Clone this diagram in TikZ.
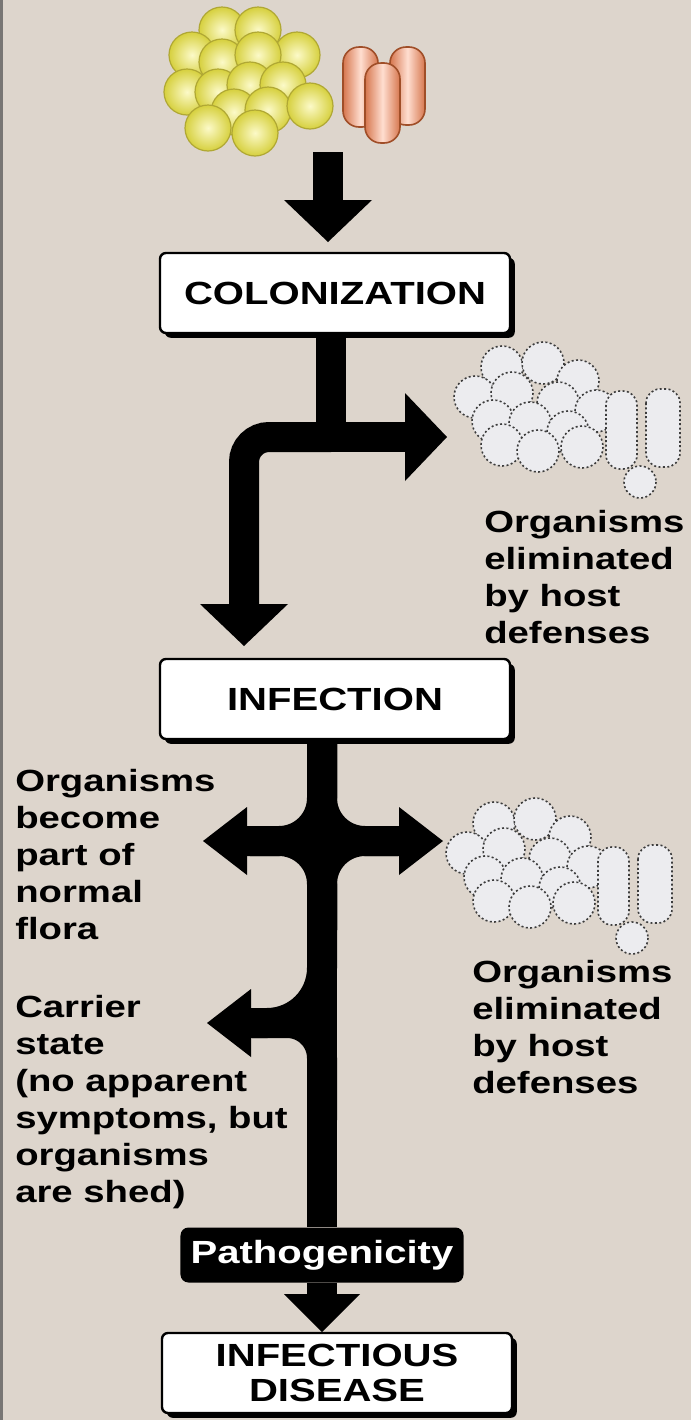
\documentclass[tikz,border=0pt]{standalone}
\usepackage{fontspec}
\newfontfamily\labelfont{Liberation Sans}[FakeStretch=1.25]
\usetikzlibrary{arrows.meta,shadows}

\definecolor{paper}{RGB}{221,213,204}
\definecolor{rim}{RGB}{120,118,116}
\definecolor{cocci-in}{RGB}{252,250,200}
\definecolor{cocci-out}{RGB}{214,208,62}
\definecolor{cocci-edge}{RGB}{176,168,52}
\definecolor{rod-out}{RGB}{214,118,78}
\definecolor{rod-mid}{RGB}{255,222,208}
\definecolor{rod-edge}{RGB}{160,78,40}
\definecolor{dead-fill}{RGB}{236,236,239}
\definecolor{dead-edge}{RGB}{60,60,60}

\tikzstyle{stage-node}=[draw,line width=0.6mm,fill=white,rounded corners=1.5mm,minimum width=87.5mm,minimum height=20mm,align=center,font=\labelfont\bfseries\fontsize{22.8}{24.9}\selectfont,drop shadow={shadow xshift=1.2mm,shadow yshift=-1.2mm,fill=black,opacity=1}]
\tikzstyle{patho-node}=[fill=black,rounded corners=2mm,minimum width=70.75mm,minimum height=13.75mm,text=white,font=\labelfont\bfseries\fontsize{22.8}{24.9}\selectfont]
\tikzstyle{note-text}=[anchor=north west,inner sep=0pt,align=left,font=\labelfont\bfseries\fontsize{21.8}{26.3}\selectfont]
\tikzstyle{flow}=[line width=7.5mm,-{Triangle[width=22mm,length=10.5mm,line width=0pt]}]
\tikzstyle{branch}=[line width=7.5mm,-{Triangle[width=17mm,length=11mm,line width=0pt]}]
\tikzstyle{trunk}=[line width=7.5mm]
\tikzstyle{coccus}=[draw=cocci-edge,line width=0.3mm,inner color=cocci-in,outer color=cocci-out]
\tikzstyle{rod}=[draw=rod-edge,line width=0.4mm,rounded corners=4mm,left color=rod-out,right color=rod-out,middle color=rod-mid]
\tikzstyle{dead-cell}=[draw=dead-edge,fill=dead-fill,line width=0.4mm,dash pattern=on 0.5mm off 0.6mm]

\begin{document}
\begin{tikzpicture}[x=0.25mm,y=-0.25mm]
    \fill[paper] (0,0) rectangle (691,1420);
    \fill[rim] (0,0) rectangle (3,1420);
    \useasboundingbox (0,0) rectangle (691,1420);

    % live cocci and rods
    \foreach \x/\y in {222/30, 258/30, 192/55, 297/55, 222/62, 258/55, 187/92, 218/92, 250/85, 283/85, 234/112, 268/110, 310/106, 208/128, 255/133}
        \draw[coccus] (\x,\y) circle (23);
    \draw[rod] (343,47) rectangle (378,127);
    \draw[rod] (390,47) rectangle (425,125);
    \draw[rod] (365,63) rectangle (400,143);

    % organisms cleared by the host (two copies)
    \foreach \sx/\sy in {450/335, 442/791}{
        \begin{scope}[shift={(\sx,\sy)}]
            \foreach \x/\y in {52/32, 93/28, 128/46, 25/62, 62/58, 108/68, 146/76, 43/86, 80/88, 118/97, 52/110, 88/116, 132/112}
                \draw[dead-cell] (\x,\y) circle (21);
            \draw[dead-cell,rounded corners=3.5mm] (156,56) rectangle (187,134);
            \draw[dead-cell,rounded corners=3.5mm] (196,54) rectangle (230,132);
            \draw[dead-cell] (190,147) circle (16);
        \end{scope}
    }

    % stages
    \node[stage-node] (colon) at (335,293) {COLONIZATION};
    \node[stage-node] (infect) at (335,699) {INFECTION};
    \node[patho-node] (patho) at (322,1255) {Pathogenicity};
    \node[stage-node] (disease) at (337,1373) {INFECTIOUS\\DISEASE};

    % side notes
    \node[note-text] (gone-text1) at (484,510) {Organisms\\eliminated\\by host\\defenses};
    \node[note-text] (flora-text) at (15,769) {Organisms\\become\\part of\\normal\\flora};
    \node[note-text] (gone-text2) at (472,960) {Organisms\\eliminated\\by host\\defenses};
    \node[note-text] (carrier-text) at (15,995) {Carrier\\state\\(no apparent\\symptoms, but\\organisms\\are shed)};

    % arrow ends
    \coordinate (germs) at (328,152);
    \coordinate (tip1) at (328,242);
    \coordinate (fork1) at (331,437);
    \coordinate (gone1) at (447,437);
    \coordinate (tip2) at (244,646);
    \coordinate (flora) at (203,841);
    \coordinate (flora-base) at (250,841);
    \coordinate (gone2) at (443,841);
    \coordinate (gone2-base) at (398,841);
    \coordinate (knot) at (322,930);
    \coordinate (carrier) at (207,1023);
    \coordinate (carrier-base) at (252,1023);
    \coordinate (knot2) at (322,1120);
    \coordinate (tip3) at (322,1332);

    \draw[flow] (germs) -- (tip1);
    \draw[trunk] (colon.south -| fork1) -- (fork1);
    \draw[flow] (fork1) -- (gone1);
    \draw[flow,rounded corners=6.25mm] (fork1) -| (tip2);

    \draw[trunk] (infect.south -| patho.north) -- (patho.north);
    \draw[branch,rounded corners=10.75mm] (infect.south -| patho.north) |- (flora);
    \draw[branch,rounded corners=10.75mm] (infect.south -| patho.north) |- (gone2);
    \draw[trunk,rounded corners=10.75mm] (knot) |- (flora-base);
    \draw[trunk,rounded corners=10.75mm] (knot) |- (gone2-base);
    \draw[branch,rounded corners=13.75mm] (infect.south -| patho.north) |- (carrier);
    \draw[trunk,rounded corners=8.75mm] (knot2) |- (carrier-base);

    \draw[flow,-{Triangle[width=19mm,length=9.5mm,line width=0pt]}] (patho.south) -- (tip3);
\end{tikzpicture}
\end{document}
